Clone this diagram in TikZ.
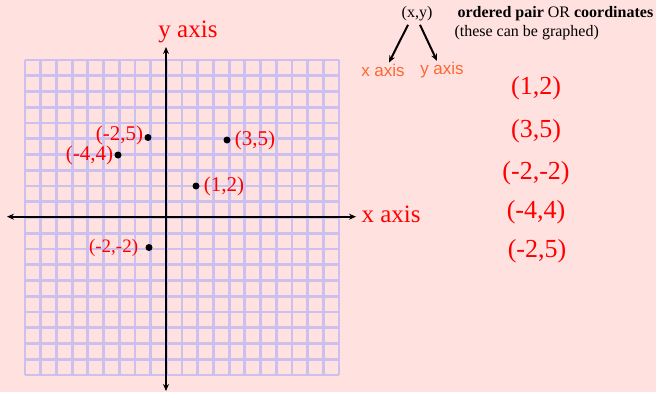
\documentclass[tikz,border=0pt]{standalone}
\usepackage{fontspec}
\setmainfont{Liberation Serif}
\newfontfamily\axisfont{Liberation Sans}
\usetikzlibrary{positioning,arrows.meta}
\definecolor{bgpink}{RGB}{255,226,224}
\definecolor{gridlav}{RGB}{204,192,238}
\definecolor{axisorange}{RGB}{255,102,51}
\begin{document}
\begin{tikzpicture}[x=1pt, y=-1pt,
	gridline/.style={gridlav, line width=2.8pt},
	axisline/.style={line width=1.8pt, -{Stealth[length=7pt,width=6pt]}},
	dot/.style={circle, fill=black, inner sep=0pt, minimum size=7pt},
	ptlabel/.style={text=red, font=\fontsize{21}{24}\selectfont, inner sep=1pt},
	pairlist/.style={text=red, font=\fontsize{26}{30}\selectfont},
	axisname/.style={text=red, font=\fontsize{25}{29}\selectfont},
	orangename/.style={text=axisorange, font=\axisfont\fontsize{17}{20}\selectfont, inner sep=1pt}]
	\fill[bgpink] (0,0) rectangle (656,392);
	\useasboundingbox (0,0) rectangle (656,392);
	% graph paper
	\foreach \k in {0,...,20} {
		\draw[gridline] ({25+15.7*\k},60) -- ({25+15.7*\k},375);
		\draw[gridline] (25,{60+15.75*\k}) -- (339,{60+15.75*\k});
	}
	% axes
	\node[axisname] (yname) at (188,32) {y axis};
	\node[axisname, anchor=west] (xname) at (358,214) {x axis};
	\coordinate (ytop) at (166,47);
	\coordinate (ybot) at (166,391);
	\coordinate (xleft) at (7,216.7);
	\coordinate (xright) at (356,216.7);
	\draw[axisline] (166,216.7) -- (ytop);
	\draw[axisline] (166,216.7) -- (ybot);
	\draw[axisline] (166,216.7) -- (xleft);
	\draw[axisline] (166,216.7) -- (xright);
	% plotted points
	\node[dot] (p12) at (196,186) {};
	\node[dot] (p35) at (227,140) {};
	\node[dot] (m25) at (148,137.5) {};
	\node[dot] (m44) at (118,155) {};
	\node[dot] (mm22) at (149,247.5) {};
	\node[ptlabel, right=3pt of p12] {(1,2)};
	\node[ptlabel, right=3pt of p35] {(3,5)};
	\node[ptlabel, left=0pt of m25, yshift=2pt] {(-2,5)};
	\node[ptlabel, left=0pt of m44] {(-4,4)};
	\node[ptlabel, left=6pt of mm22, font=\fontsize{19}{22}\selectfont] {(-2,-2)};
	% ordered pair note
	\node[font=\fontsize{16}{19}\selectfont] (pair) at (417,14) {(x,y)};
	\node[font=\fontsize{16}{19}\selectfont, anchor=west] (note) at (454,14) {\textbf{ordered pair} OR \textbf{coordinates}};
	\node[font=\fontsize{16}{19}\selectfont, anchor=west] (graphed) at (451,33) {(these can be graphed)};
	\node[orangename] (xpart) at (383,70) {x axis};
	\node[orangename] (ypart) at (442,70) {y axis};
	\draw[line width=2pt, -{Stealth[length=7pt,width=6pt]}] ([xshift=-9]pair.south) -- ([xshift=6]xpart.north);
	\draw[line width=2pt, -{Stealth[length=7pt,width=6pt]}] ([xshift=3]pair.south) -- ([xshift=-5]ypart.north);
	% list of pairs
	\node[pairlist] (l1) at (536,88) {(1,2)};
	\node[pairlist] (l2) at (536,131) {(3,5)};
	\node[pairlist] (l3) at (536,173) {(-2,-2)};
	\node[pairlist] (l4) at (536,212) {(-4,4)};
	\node[pairlist] (l5) at (537,251) {(-2,5)};
\end{tikzpicture}
\end{document}
